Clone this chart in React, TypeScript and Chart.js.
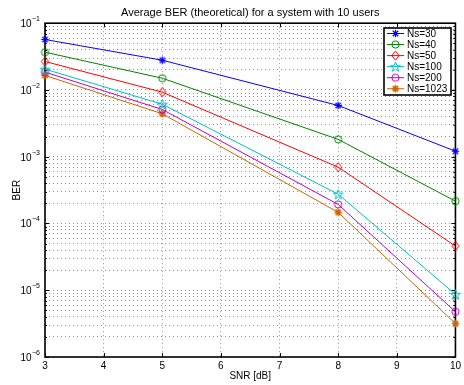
import React, { useEffect, useRef } from 'react';
import { Chart, registerables } from 'chart.js';

Chart.register(...registerables);

const snr = [3, 5, 8, 10];
const ns30 = [0.057, 0.0279, 0.00586, 0.00121];
const ns40 = [0.0368, 0.015, 0.00182, 0.000216];
const ns50 = [0.0267, 0.00927, 0.000698, 0.0000459];
const ns100 = [0.0205, 0.00612, 0.000275, 0.00000867];
const ns200 = [0.0185, 0.0051, 0.000193, 0.00000476];
const ns1023 = [0.0165, 0.0044, 0.000147, 0.00000316];

const seriesLabels = ['Ns=30', 'Ns=40', 'Ns=50', 'Ns=100', 'Ns=200', 'Ns=1023'];
const seriesValues = [ns30, ns40, ns50, ns100, ns200, ns1023];
const seriesColors = ['#0000ff', '#008000', '#ff0000', '#00bfbf', '#bf00bf', '#cc6600'];
const seriesMarkers = ['asterisk', 'circle', 'diamond', 'pentagram', 'circle', 'asterisk'];

const xTicks = [3, 4, 5, 6, 7, 8, 9, 10];
const yDecades = [-6, -5, -4, -3, -2, -1];

const titleText = 'Average BER (theoretical) for a system with 10 users';
const xTitle = 'SNR [dB]';
const yTitle = 'BER';

const FONT = '"Liberation Sans", Arial, Helvetica, sans-serif';

function makeMarker(kind: string, color: string, idx: number): HTMLCanvasElement {
  const c = document.createElement('canvas');
  c.width = 13;
  c.height = 13;
  const ctx = c.getContext('2d')!;
  const cx = 6.5, cy = 6.5;
  ctx.strokeStyle = color;
  ctx.fillStyle = color;
  ctx.lineWidth = 1;
  ctx.beginPath();
  if (kind === 'asterisk') {
    const r = 3.8;
    ctx.lineWidth = idx === 5 ? 1.6 : 1.2;
    ctx.moveTo(cx - r, cy); ctx.lineTo(cx + r, cy);
    ctx.moveTo(cx, cy - r); ctx.lineTo(cx, cy + r);
    const d = r * 0.72;
    ctx.moveTo(cx - d, cy - d); ctx.lineTo(cx + d, cy + d);
    ctx.moveTo(cx - d, cy + d); ctx.lineTo(cx + d, cy - d);
    ctx.stroke();
  } else if (kind === 'circle') {
    ctx.arc(cx, cy, 3.6, 0, Math.PI * 2);
    ctx.stroke();
  } else if (kind === 'diamond') {
    ctx.moveTo(cx, cy - 4.6);
    ctx.lineTo(cx + 3.6, cy);
    ctx.lineTo(cx, cy + 4.6);
    ctx.lineTo(cx - 3.6, cy);
    ctx.closePath();
    ctx.stroke();
  } else if (kind === 'pentagram') {
    const ro = 5.2, ri = 2.1;
    for (let i = 0; i < 10; i++) {
      const a = -Math.PI / 2 + (i * Math.PI) / 5;
      const r = i % 2 === 0 ? ro : ri;
      const px = cx + r * Math.cos(a), py = cy + 0.5 + r * Math.sin(a);
      if (i === 0) ctx.moveTo(px, py); else ctx.lineTo(px, py);
    }
    ctx.closePath();
    ctx.stroke();
  }
  return c;
}

export default function App() {
  const ref = useRef<HTMLCanvasElement | null>(null);

  useEffect(() => {
    document.body.style.margin = '0';
    const canvas = ref.current;
    if (!canvas) return;
    const markers = seriesMarkers.map((m, i) => makeMarker(m, seriesColors[i], i));

    const boxPlugin = {
      id: 'matlabBox',
      beforeDatasetsDraw(chart: any) {
        const { ctx, chartArea: a, scales } = chart;
        ctx.save();
        ctx.strokeStyle = '#000';
        ctx.lineWidth = 1;
        ctx.beginPath();
        xTicks.forEach((v) => {
          const px = Math.round(scales.x.getPixelForValue(v)) + 0.5;
          ctx.moveTo(px, a.bottom); ctx.lineTo(px, a.bottom - 4);
          ctx.moveTo(px, a.top); ctx.lineTo(px, a.top + 4);
        });
        yDecades.forEach((d) => {
          for (let m = 1; m <= 9; m++) {
            const v = m * Math.pow(10, d);
            if (v > 0.1000001) continue;
            const py = Math.round(scales.y.getPixelForValue(v)) + 0.5;
            const len = m === 1 ? 4 : 2;
            ctx.moveTo(a.left, py); ctx.lineTo(a.left + len, py);
            ctx.moveTo(a.right, py); ctx.lineTo(a.right - len, py);
          }
        });
        ctx.stroke();
        ctx.lineWidth = 1.6;
        ctx.strokeRect(a.left, a.top, a.right - a.left, a.bottom - a.top);

        // y tick labels: 10 with superscript exponent
        ctx.fillStyle = '#000';
        ctx.textBaseline = 'alphabetic';
        yDecades.forEach((d) => {
          const py = scales.y.getPixelForValue(Math.pow(10, d));
          const exp = String(d).replace('-', '\u2212');
          ctx.font = '7px ' + FONT;
          const ew = ctx.measureText(exp).width;
          const ex = a.left - 5 - ew;
          ctx.textAlign = 'left';
          ctx.fillText(exp, ex, py - 2);
          ctx.font = '10px ' + FONT;
          ctx.textAlign = 'right';
          ctx.fillText('10', ex - 0.5, py + 4);
        });
        ctx.restore();
      },
    };

    const legendPlugin = {
      id: 'matlabLegend',
      afterDraw(chart: any) {
        const { ctx } = chart;
        const x0 = 384, y0 = 28, w = 67, h = 67;
        ctx.save();
        ctx.fillStyle = '#fff';
        ctx.fillRect(x0, y0, w, h);
        ctx.strokeStyle = '#000';
        ctx.lineWidth = 1.6;
        ctx.strokeRect(x0, y0, w, h);
        ctx.font = '10px ' + FONT;
        ctx.textBaseline = 'middle';
        ctx.textAlign = 'left';
        seriesLabels.forEach((lab, i) => {
          const y = 33.5 + i * 11.05;
          ctx.strokeStyle = seriesColors[i];
          ctx.lineWidth = 1;
          ctx.beginPath();
          ctx.moveTo(387, y);
          ctx.lineTo(404, y);
          ctx.stroke();
          ctx.drawImage(markers[i], 395.5 - 6.5, y - 6.5);
          ctx.fillStyle = '#000';
          ctx.fillText(lab, 407, y + 0.5);
        });
        ctx.restore();
      },
    };

    const chart = new Chart(canvas, {
      type: 'line',
      data: {
        datasets: seriesLabels.map((lab, i) => ({
          label: lab,
          data: snr.map((x, j) => ({ x, y: seriesValues[i][j] })),
          borderColor: seriesColors[i],
          backgroundColor: seriesColors[i],
          borderWidth: 1,
          pointStyle: markers[i] as any,
          pointRadius: 4,
          tension: 0,
          clip: false as any,
        })),
      },
      options: {
        responsive: false,
        animation: false,
        devicePixelRatio: 1,
        layout: { padding: { left: 0, right: 8, top: 0, bottom: 0 } },
        plugins: {
          legend: { display: false },
          tooltip: { enabled: false },
          title: {
            display: true,
            text: titleText,
            fullSize: false,
            color: '#000',
            font: { family: FONT, size: 11, weight: 'normal' },
            padding: { top: 6, bottom: 4 },
          },
        },
        scales: {
          x: {
            type: 'linear',
            min: 3,
            max: 10,
            afterBuildTicks: (s: any) => {
              s.ticks = xTicks.map((v) => ({ value: v }));
            },
            afterFit: (s: any) => {
              s.height = 28;
            },
            ticks: {
              autoSkip: false,
              maxRotation: 0,
              padding: 3,
              color: '#000',
              font: { family: FONT, size: 10 },
            },
            grid: { color: '#8f8f8f', drawTicks: false, lineWidth: 1 },
            border: { display: false, dash: [1, 3] },
            title: {
              display: true,
              text: xTitle,
              color: '#000',
              font: { family: FONT, size: 10 },
              padding: { top: 0, bottom: 3 },
            },
          },
          y: {
            type: 'logarithmic',
            min: 1e-6,
            max: 1e-1,
            afterBuildTicks: (s: any) => {
              const t: any[] = [];
              yDecades.forEach((d) => {
                for (let m = 1; m <= 9; m++) {
                  const v = Number((m * Math.pow(10, d)).toPrecision(12));
                  if (v <= 0.1000001) t.push({ value: v });
                }
              });
              s.ticks = t;
            },
            afterFit: (s: any) => {
              s.width = 45;
            },
            ticks: {
              autoSkip: false,
              padding: 5,
              color: '#000',
              font: { family: FONT, size: 10 },
              callback: () => '',
            },
            grid: { color: '#8f8f8f', drawTicks: false, lineWidth: 1 },
            border: { display: false, dash: [1, 3] },
            title: {
              display: true,
              text: yTitle,
              color: '#000',
              font: { family: FONT, size: 10 },
              padding: { top: 11, bottom: 0 },
            },
          },
        },
      },
      plugins: [boxPlugin, legendPlugin],
    });
    return () => chart.destroy();
  }, []);

  return (
    <div style={{ width: 464, height: 385 }}>
      <canvas ref={ref} width={464} height={385} style={{ display: 'block' }} />
    </div>
  );
}
